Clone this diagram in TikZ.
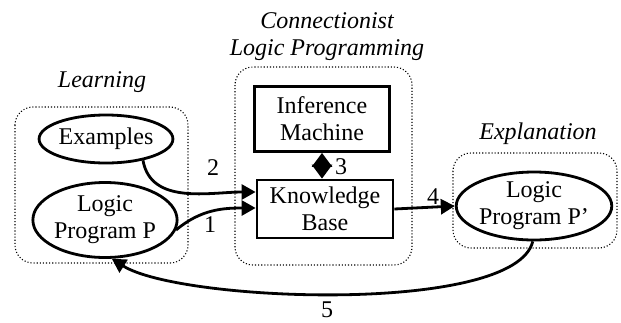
\documentclass[tikz,border=0pt]{standalone}
\usepackage{fontspec}
\setmainfont{Liberation Serif}
\usetikzlibrary{shapes.geometric,arrows.meta}
\begin{document}
\begin{tikzpicture}
  [x=1pt,y=-1pt,
   every node/.style={font=\fontsize{24}{27}\selectfont,align=center,inner sep=0pt},
   oval/.style={ellipse,draw,line width=2.8pt},
   block/.style={rectangle,draw,line width=2.8pt},
   group/.style={draw,dotted,line width=1.1pt,rounded corners=18pt},
   title/.style={font=\fontsize{24}{27}\selectfont\itshape},
   link/.style={line width=2.8pt,-{Triangle[length=14pt,width=15pt]}}]
  \useasboundingbox (0,0) rectangle (621,322);

  % groups
  \draw[group] (15,107) rectangle (188,263);
  \draw[group] (235,67) rectangle (412,265);
  \draw[group] (453,153) rectangle (617,248);
  \node (tl)[title] at (102,82) {Learning};
  \node (tc)[title] at (327,37) {Connectionist\\Logic Programming};
  \node (te)[title] at (538,134) {Explanation};

  % nodes
  \node (ex)[oval,minimum width=131pt,minimum height=48pt] at (106,139) {Examples};
  \node (lp)[oval,minimum width=144pt,minimum height=75pt] at (105,220) {Logic\\Program P};
  \node (im)[block,minimum width=135pt,minimum height=65pt] at (322,119) {Inference\\Machine};
  \node (kb)[block,minimum width=136pt,minimum height=58pt] at (325,209) {Knowledge\\Base};
  \node (lq)[oval,minimum width=148pt,minimum height=68pt] at (534,206) {Logic\\Program P'};

  % connectors
  \draw[link] (ex.-30) to[out=-80,in=180] ([yshift=17pt]kb.west);
  \draw[link] (lp.-8) to[out=40,in=180] ([yshift=1pt]kb.west);
  \draw[line width=2.8pt,{Triangle[length=14pt,width=20pt]}-{Triangle[length=14pt,width=20pt]}]
    (im.south) -- (im.south |- kb.north);
  \draw[link] (kb.east) -- (lq.west);
  \draw[link] (lq.-92) .. controls (515,315) and (180,302) .. (lp.-80);

  % labels
  \node (n1) at (210,225) {1};
  \node (n2) at (213,168) {2};
  \node (n3) at (341,167) {3};
  \node (n4) at (433,197) {4};
  \node (n5) at (327,310) {5};
\end{tikzpicture}
\end{document}
